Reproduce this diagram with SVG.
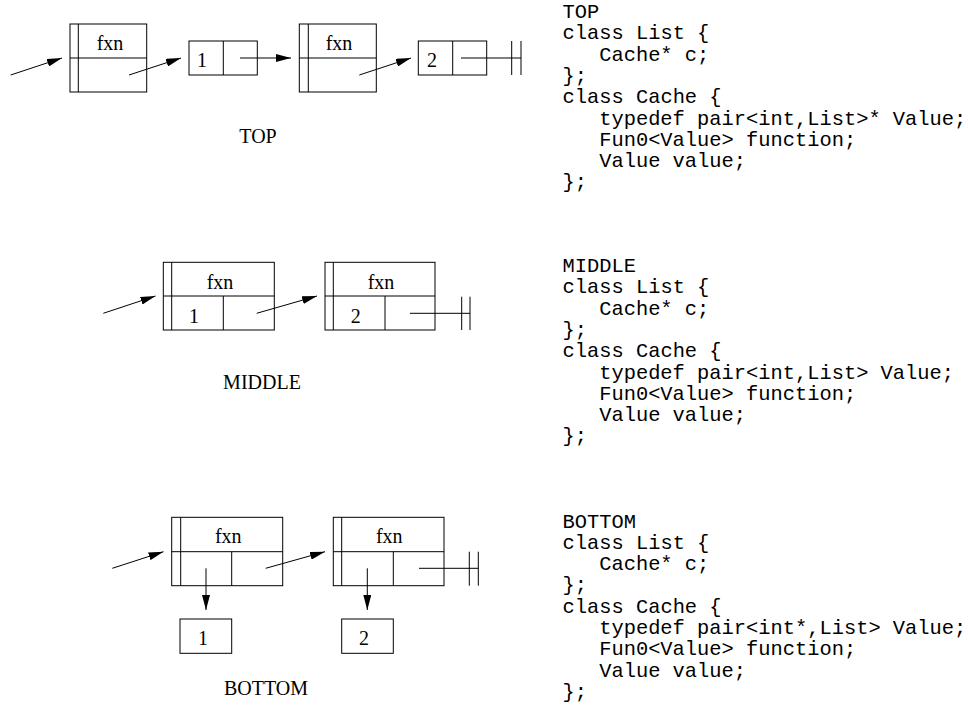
<svg xmlns="http://www.w3.org/2000/svg" width="968" height="721" viewBox="0 0 968 721">
<defs>
<marker id="ah" markerWidth="15" markerHeight="8" refX="15" refY="4" orient="auto" markerUnits="userSpaceOnUse"><path d="M0,0 L15,4 L0,8 z" fill="#000"/></marker>
<style>
.b{fill:#fff;stroke:#000;stroke-width:1}
.l{stroke:#000;stroke-width:1;fill:none}
.a{stroke:#000;stroke-width:1;fill:none;marker-end:url(#ah)}
.t{font-family:"Liberation Serif","Times New Roman",serif;font-size:20px;fill:#000;text-anchor:middle}
.c{font-family:"Liberation Mono","Courier New",monospace;font-size:20.4px;fill:#000}
</style>
</defs>
<rect width="968" height="721" fill="#fff"/>

<!-- TOP -->
<g id="top-cache1"><rect class="b" x="70" y="24" width="76.7" height="68"/><line class="l" x1="78.3" y1="24" x2="78.3" y2="92"/><line class="l" x1="70" y1="58" x2="146.7" y2="58"/><text class="t" x="110" y="50">fxn</text></g>
<g id="top-list1"><rect class="b" x="189" y="41" width="68.3" height="34"/><line class="l" x1="223.3" y1="41" x2="223.3" y2="75"/><text class="t" x="202" y="67">1</text></g>
<g id="top-cache2"><rect class="b" x="299.3" y="24" width="77" height="68"/><line class="l" x1="308.3" y1="24" x2="308.3" y2="92"/><line class="l" x1="299.3" y1="58" x2="376.3" y2="58"/><text class="t" x="339" y="50">fxn</text></g>
<g id="top-list2"><rect class="b" x="418.3" y="41" width="68.4" height="34"/><line class="l" x1="452.7" y1="41" x2="452.7" y2="75"/><text class="t" x="432" y="67">2</text></g>
<g id="top-end"><line class="l" x1="511.7" y1="41" x2="511.7" y2="75"/><line class="l" x1="521" y1="41" x2="521" y2="75"/></g>
<text class="t" x="258" y="143">TOP</text>

<!-- MIDDLE -->
<g id="mid-cache1"><rect class="b" x="163.3" y="262.3" width="111" height="67.7"/><line class="l" x1="171.7" y1="262.3" x2="171.7" y2="330"/><line class="l" x1="163.3" y1="296" x2="274.3" y2="296"/><line class="l" x1="223.3" y1="296" x2="223.3" y2="330"/><text class="t" x="220" y="288.5">fxn</text><text class="t" x="194" y="323">1</text></g>
<g id="mid-cache2"><rect class="b" x="325" y="262.3" width="110" height="67.7"/><line class="l" x1="333.3" y1="262.3" x2="333.3" y2="330"/><line class="l" x1="325" y1="296" x2="435" y2="296"/><line class="l" x1="385" y1="296" x2="385" y2="330"/><text class="t" x="381" y="288.5">fxn</text><text class="t" x="355.7" y="323">2</text></g>
<g id="mid-end"><line class="l" x1="461.7" y1="296.7" x2="461.7" y2="330"/><line class="l" x1="470" y1="296.7" x2="470" y2="330"/></g>
<text class="t" x="262" y="389">MIDDLE</text>

<!-- BOTTOM -->
<g id="bot-cache1"><rect class="b" x="171.7" y="517.3" width="111" height="68.4"/><line class="l" x1="180.7" y1="517.3" x2="180.7" y2="585.7"/><line class="l" x1="171.7" y1="551.7" x2="282.7" y2="551.7"/><line class="l" x1="231.7" y1="551.7" x2="231.7" y2="585.7"/><text class="t" x="228.3" y="543">fxn</text></g>
<g id="bot-int1"><rect class="b" x="180" y="619" width="51.7" height="34.3"/><text class="t" x="203" y="645">1</text></g>
<g id="bot-cache2"><rect class="b" x="333.3" y="517.3" width="110.7" height="68.4"/><line class="l" x1="341.7" y1="517.3" x2="341.7" y2="585.7"/><line class="l" x1="333.3" y1="551.7" x2="444" y2="551.7"/><line class="l" x1="393.3" y1="551.7" x2="393.3" y2="585.7"/><text class="t" x="389.3" y="543">fxn</text></g>
<g id="bot-int2"><rect class="b" x="341.7" y="619" width="51.6" height="34.3"/><text class="t" x="364" y="645">2</text></g>
<g id="bot-end"><line class="l" x1="469.3" y1="551.7" x2="469.3" y2="585.7"/><line class="l" x1="478.3" y1="551.7" x2="478.3" y2="585.7"/></g>
<text class="t" x="266" y="695">BOTTOM</text>

<g id="connectors">
<line class="a" x1="10.7" y1="75" x2="62" y2="58"/>
<line class="a" x1="129" y1="75" x2="181" y2="58"/>
<line class="a" x1="240" y1="58" x2="291" y2="58"/>
<line class="a" x1="359.3" y1="75" x2="411" y2="58"/>
<line class="l" x1="461" y1="58" x2="521" y2="58"/>

<line class="a" x1="103.3" y1="313.3" x2="155.5" y2="296"/>
<line class="a" x1="256.7" y1="313.3" x2="317" y2="296"/>
<line class="l" x1="410" y1="313.3" x2="470" y2="313.3"/>

<line class="a" x1="112.3" y1="568.3" x2="163.5" y2="551.7"/>
<line class="a" x1="206" y1="568.3" x2="206" y2="610"/>
<line class="a" x1="265.7" y1="568.3" x2="325" y2="551.7"/>
<line class="a" x1="367.3" y1="568.3" x2="367.3" y2="610"/>
<line class="l" x1="419" y1="568.3" x2="478.3" y2="568.3"/>
</g>

<g id="code-top">
<text class="c" x="562.5" y="18">TOP</text>
<text class="c" x="562.5" y="39.3">class List {</text>
<text class="c" x="599.2" y="60.6">Cache* c;</text>
<text class="c" x="562.5" y="81.9">};</text>
<text class="c" x="562.5" y="103.2">class Cache {</text>
<text class="c" x="599.2" y="124.5">typedef pair&lt;int,List&gt;* Value;</text>
<text class="c" x="599.2" y="145.8">Fun0&lt;Value&gt; function;</text>
<text class="c" x="599.2" y="167.1">Value value;</text>
<text class="c" x="562.5" y="188.4">};</text>
</g>
<g id="code-middle">
<text class="c" x="562.5" y="272">MIDDLE</text>
<text class="c" x="562.5" y="293.3">class List {</text>
<text class="c" x="599.2" y="314.6">Cache* c;</text>
<text class="c" x="562.5" y="335.9">};</text>
<text class="c" x="562.5" y="357.2">class Cache {</text>
<text class="c" x="599.2" y="378.5">typedef pair&lt;int,List&gt; Value;</text>
<text class="c" x="599.2" y="399.8">Fun0&lt;Value&gt; function;</text>
<text class="c" x="599.2" y="421.1">Value value;</text>
<text class="c" x="562.5" y="442.4">};</text>
</g>
<g id="code-bottom">
<text class="c" x="562.5" y="527.5">BOTTOM</text>
<text class="c" x="562.5" y="548.8">class List {</text>
<text class="c" x="599.2" y="570.1">Cache* c;</text>
<text class="c" x="562.5" y="591.4">};</text>
<text class="c" x="562.5" y="612.7">class Cache {</text>
<text class="c" x="599.2" y="634">typedef pair&lt;int*,List&gt; Value;</text>
<text class="c" x="599.2" y="655.3">Fun0&lt;Value&gt; function;</text>
<text class="c" x="599.2" y="676.6">Value value;</text>
<text class="c" x="562.5" y="697.9">};</text>
</g>
</svg>
